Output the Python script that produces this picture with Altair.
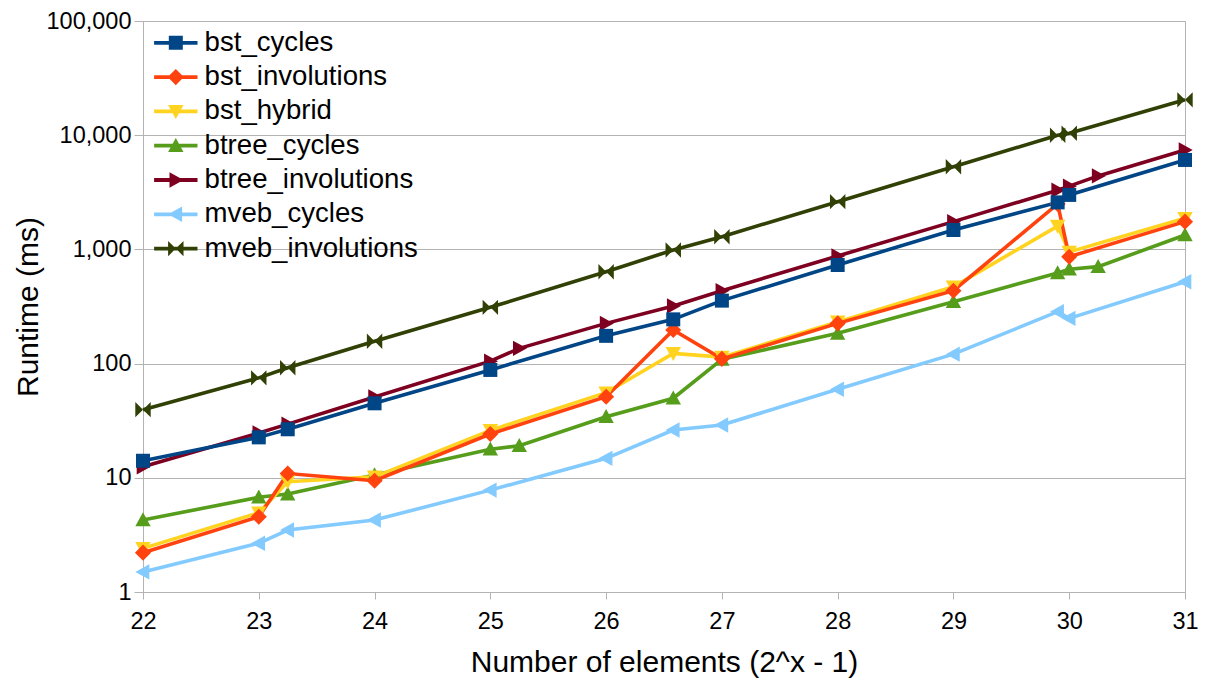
import altair as alt
import pandas as pd

# Series names, in legend order, and their line/marker colours
SERIES = ["bst_cycles", "bst_involutions", "bst_hybrid", "btree_cycles",
          "btree_involutions", "mveb_cycles", "mveb_involutions"]
COLORS = ["#004586", "#ff420e", "#ffd320", "#579d1c", "#7e0021", "#83caff", "#314004"]

# x = log2 of the number of elements
X_COMMON = [22, 23, 23.25, 24, 25, 26, 26.58, 27, 28, 29, 29.9, 30, 31]
X_BTREE = [22, 23, 23.25, 24, 25, 25.25, 26, 26.58, 27, 28, 29, 29.9, 30, 30.25, 31]

# Runtimes in ms
bst_cycles = [14.1, 22.6, 26.6, 44.9, 88, 175, 244, 356, 730, 1479, 2580, 3000, 6070]
bst_involutions = [2.21, 4.56, 10.9, 9.43, 24.2, 51.3, 197, 110, 225, 435, 2500, 863, 1750]
bst_hybrid = [2.41, 4.95, 9.25, 10.2, 26, 55.6, 123, 114, 232, 471, 1600, 950, 1872]
btree_cycles = [4.27, 6.75, 7.2, 10.6, 17.8, 19.1, 34.3, 49.7, 109, 184, 348, 622, 670, 706, 1337]
btree_involutions = [12.5, 24.7, 29.5, 51, 105, 136, 225, 319, 435, 875, 1750, 3300, 3580, 4400, 7420]
mveb_cycles = [1.5, 2.67, 3.49, 4.27, 7.8, 14.8, 26.2, 29, 59.6, 121, 285, 249, 521]
mveb_involutions = [39.5, 75, 92, 157, 311, 638, 988, 1292, 2618, 5300, 10000, 10400, 20400]

VALUES = {
    "bst_cycles": (X_COMMON, bst_cycles),
    "bst_involutions": (X_COMMON, bst_involutions),
    "bst_hybrid": (X_COMMON, bst_hybrid),
    "btree_cycles": (X_BTREE, btree_cycles),
    "btree_involutions": (X_BTREE, btree_involutions),
    "mveb_cycles": (X_COMMON, mveb_cycles),
    "mveb_involutions": (X_COMMON, mveb_involutions),
}

# Marker outlines (unit square coordinates, all wound clockwise)
MARKERS = [
    "M-1,-1H1V1H-1Z",                      # square
    "M0,-1.15L1.15,0L0,1.15L-1.15,0Z",     # diamond
    "M-1.1,-0.9H1.1L0,1.1Z",               # triangle down
    "M-1.1,0.9L0,-1.1L1.1,0.9Z",           # triangle up
    "M-0.9,-1.1L1.1,0L-0.9,1.1Z",          # triangle right
    "M0.9,-1.1V1.1L-1.1,0Z",               # triangle left
    "M-1.1,-1.1L0,0L-1.1,1.1Z M1.1,-1.1L1.1,1.1L0,0Z",  # bow tie
]
# Legend keys: a short line segment with the marker on top
LINE_KEY = "M-3.1,-0.27H3.1V0.27H-3.1Z "
LEGEND_KEYS = [LINE_KEY + m for m in MARKERS]

rows = []
# reversed so the first series ends up drawn on top
for rank, name in enumerate(reversed(SERIES)):
    xs, ys = VALUES[name]
    for x, y in zip(xs, ys):
        rows.append({"series": name, "x": x, "ms": y, "rank": rank})
df = pd.DataFrame(rows)

FONT = "Liberation Sans"

x_enc = alt.X("x:Q", scale=alt.Scale(domain=[22, 31], nice=False, zero=False),
              axis=alt.Axis(values=list(range(22, 32)), title="Number of elements (2^x - 1)",
                            grid=False, tickSize=7, labelPadding=10, titlePadding=15,
                            labelFlush=False))
y_enc = alt.Y("ms:Q", scale=alt.Scale(type="log", domain=[1, 100000], nice=False),
              axis=alt.Axis(values=[1, 10, 100, 1000, 10000, 100000], format=",",
                            title="Runtime (ms)", grid=True, tickSize=9,
                            labelPadding=3, titlePadding=3, labelFlush=False))
color_scale = alt.Scale(domain=SERIES, range=COLORS)

lines = alt.Chart(df).mark_line(strokeWidth=3.6).encode(
    x=x_enc, y=y_enc,
    color=alt.Color("series:N", scale=color_scale, legend=None),
    detail="rank:O",
    order="x:Q",
)

points = alt.Chart(df).mark_point(filled=True, opacity=1, size=196, strokeWidth=0).encode(
    x=x_enc, y=y_enc,
    color=alt.Color("series:N", scale=color_scale, legend=None),
    shape=alt.Shape("series:N", scale=alt.Scale(domain=SERIES, range=MARKERS), legend=None),
)

key_legend = alt.Legend(title=None, orient="none", legendX=-3, legendY=8)
legend_layer = alt.Chart(df).mark_point(filled=True, opacity=0, size=196).encode(
    x=x_enc, y=y_enc,
    color=alt.Color("series:N", scale=alt.Scale(domain=SERIES, range=COLORS), legend=key_legend),
    shape=alt.Shape("series:N", scale=alt.Scale(domain=SERIES, range=LEGEND_KEYS), legend=key_legend),
)

chart = alt.layer(lines, points, legend_layer).resolve_scale(
    shape="independent", color="independent"
).properties(
    width=1042,
    height=571,
    autosize=alt.AutoSizeParams(type="none"),
    padding={"left": 143, "top": 21, "right": 21, "bottom": 88},
    background="white",
).configure_view(
    stroke="#b3b3b3", strokeWidth=1
).configure_axis(
    labelFont=FONT, titleFont=FONT, labelFontSize=23.5, titleFontSize=30,
    titleFontWeight="normal", labelColor="#000000", titleColor="#000000",
    domainColor="#b3b3b3", tickColor="#b3b3b3", gridColor="#b3b3b3",
    domainWidth=1, tickWidth=1, gridWidth=1,
).configure_legend(
    labelFont=FONT, labelFontSize=27.6, labelColor="#000000", labelLimit=400,
    symbolSize=196, symbolOpacity=1, symbolStrokeWidth=0,
    symbolOffset=22, labelOffset=15, rowPadding=5.3, padding=0,
)

chart.save("out.html", embed_options={"renderer": "svg", "actions": False})
